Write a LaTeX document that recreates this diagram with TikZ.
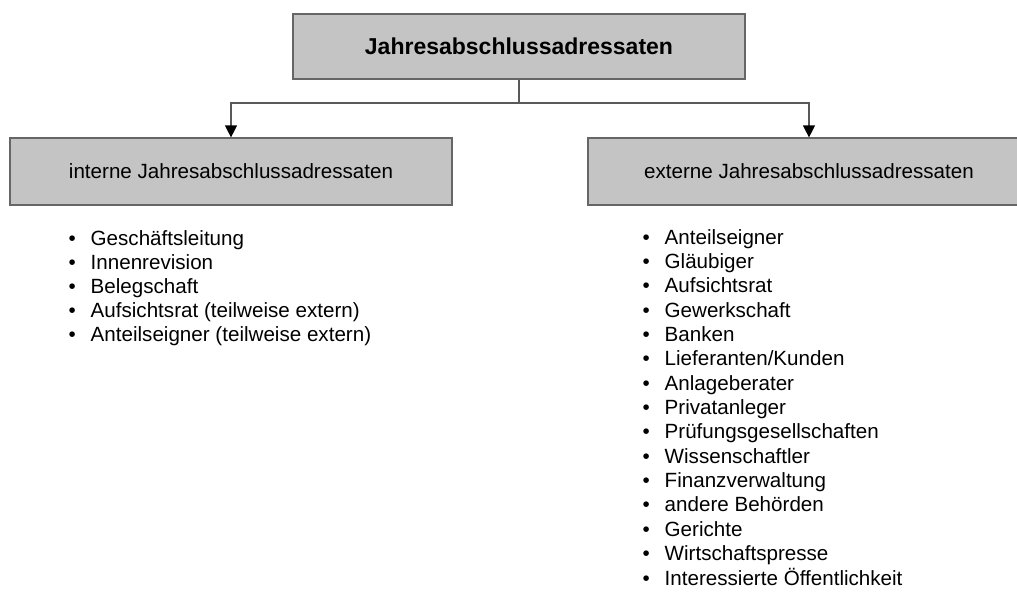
\documentclass[tikz,border=0pt]{standalone}
\usepackage{fontspec}
\setmainfont{Liberation Sans}
\usetikzlibrary{arrows.meta}

\newcommand{\bul}{\makebox[22pt][l]{\textbullet}}

\begin{document}
\begin{tikzpicture}[x=1pt,y=-1pt]
\tikzset{box/.style={draw=black!60,line width=1.2pt,fill=black!23,inner sep=0pt,font=\fontsize{20.6}{24}\selectfont}}
\tikzset{item/.style={anchor=base west,inner sep=0pt,font=\fontsize{20.6}{24}\selectfont}}
\tikzset{link/.style={draw=black!65,line width=1.2pt}}
\tikzset{tip/.style={-{Triangle[length=12pt,width=12pt,color=black,fill=black]}}}

\useasboundingbox (0,0) rectangle (1017,595);
\clip (0,0) rectangle (1017,595);

\node[box,minimum width=452pt,minimum height=65pt,font=\fontsize{23}{27}\selectfont\bfseries](top) at (519,46.5) {Jahresabschlussadressaten};
\node[box,minimum width=442pt,minimum height=67pt](intern) at (231,171.5) {interne Jahresabschlussadressaten};
\node[box,minimum width=442pt,minimum height=67pt](extern) at (809,171.5) {externe Jahresabschlussadressaten};

\coordinate (split) at (519,103);
\draw[link] (top.south) -- (split);
\draw[link,tip] (split) -| (intern.north);
\draw[link,tip] (split) -| (extern.north);

% interne
\node[item](in1) at (68.5,245) {\bul Geschäftsleitung};
\node[item](in2) at (68.5,269) {\bul Innenrevision};
\node[item](in3) at (68.5,293) {\bul Belegschaft};
\node[item](in4) at (68.5,317) {\bul Aufsichtsrat (teilweise extern)};
\node[item](in5) at (68.5,341) {\bul Anteilseigner (teilweise extern)};

% externe
\node[item](ex1) at (642.5,244) {\bul Anteilseigner};
\node[item](ex2) at (642.5,268.4) {\bul Gläubiger};
\node[item](ex3) at (642.5,292.7) {\bul Aufsichtsrat};
\node[item](ex4) at (642.5,317.1) {\bul Gewerkschaft};
\node[item](ex5) at (642.5,341.4) {\bul Banken};
\node[item](ex6) at (642.5,365.8) {\bul Lieferanten/Kunden};
\node[item](ex7) at (642.5,390.1) {\bul Anlageberater};
\node[item](ex8) at (642.5,414.5) {\bul Privatanleger};
\node[item](ex9) at (642.5,438.8) {\bul Prüfungsgesellschaften};
\node[item](ex10) at (642.5,463.2) {\bul Wissenschaftler};
\node[item](ex11) at (642.5,487.5) {\bul Finanzverwaltung};
\node[item](ex12) at (642.5,511.9) {\bul andere Behörden};
\node[item](ex13) at (642.5,536.2) {\bul Gerichte};
\node[item](ex14) at (642.5,560.6) {\bul Wirtschaftspresse};
\node[item](ex15) at (642.5,585) {\bul Interessierte Öffentlichkeit};

\end{tikzpicture}
\end{document}
